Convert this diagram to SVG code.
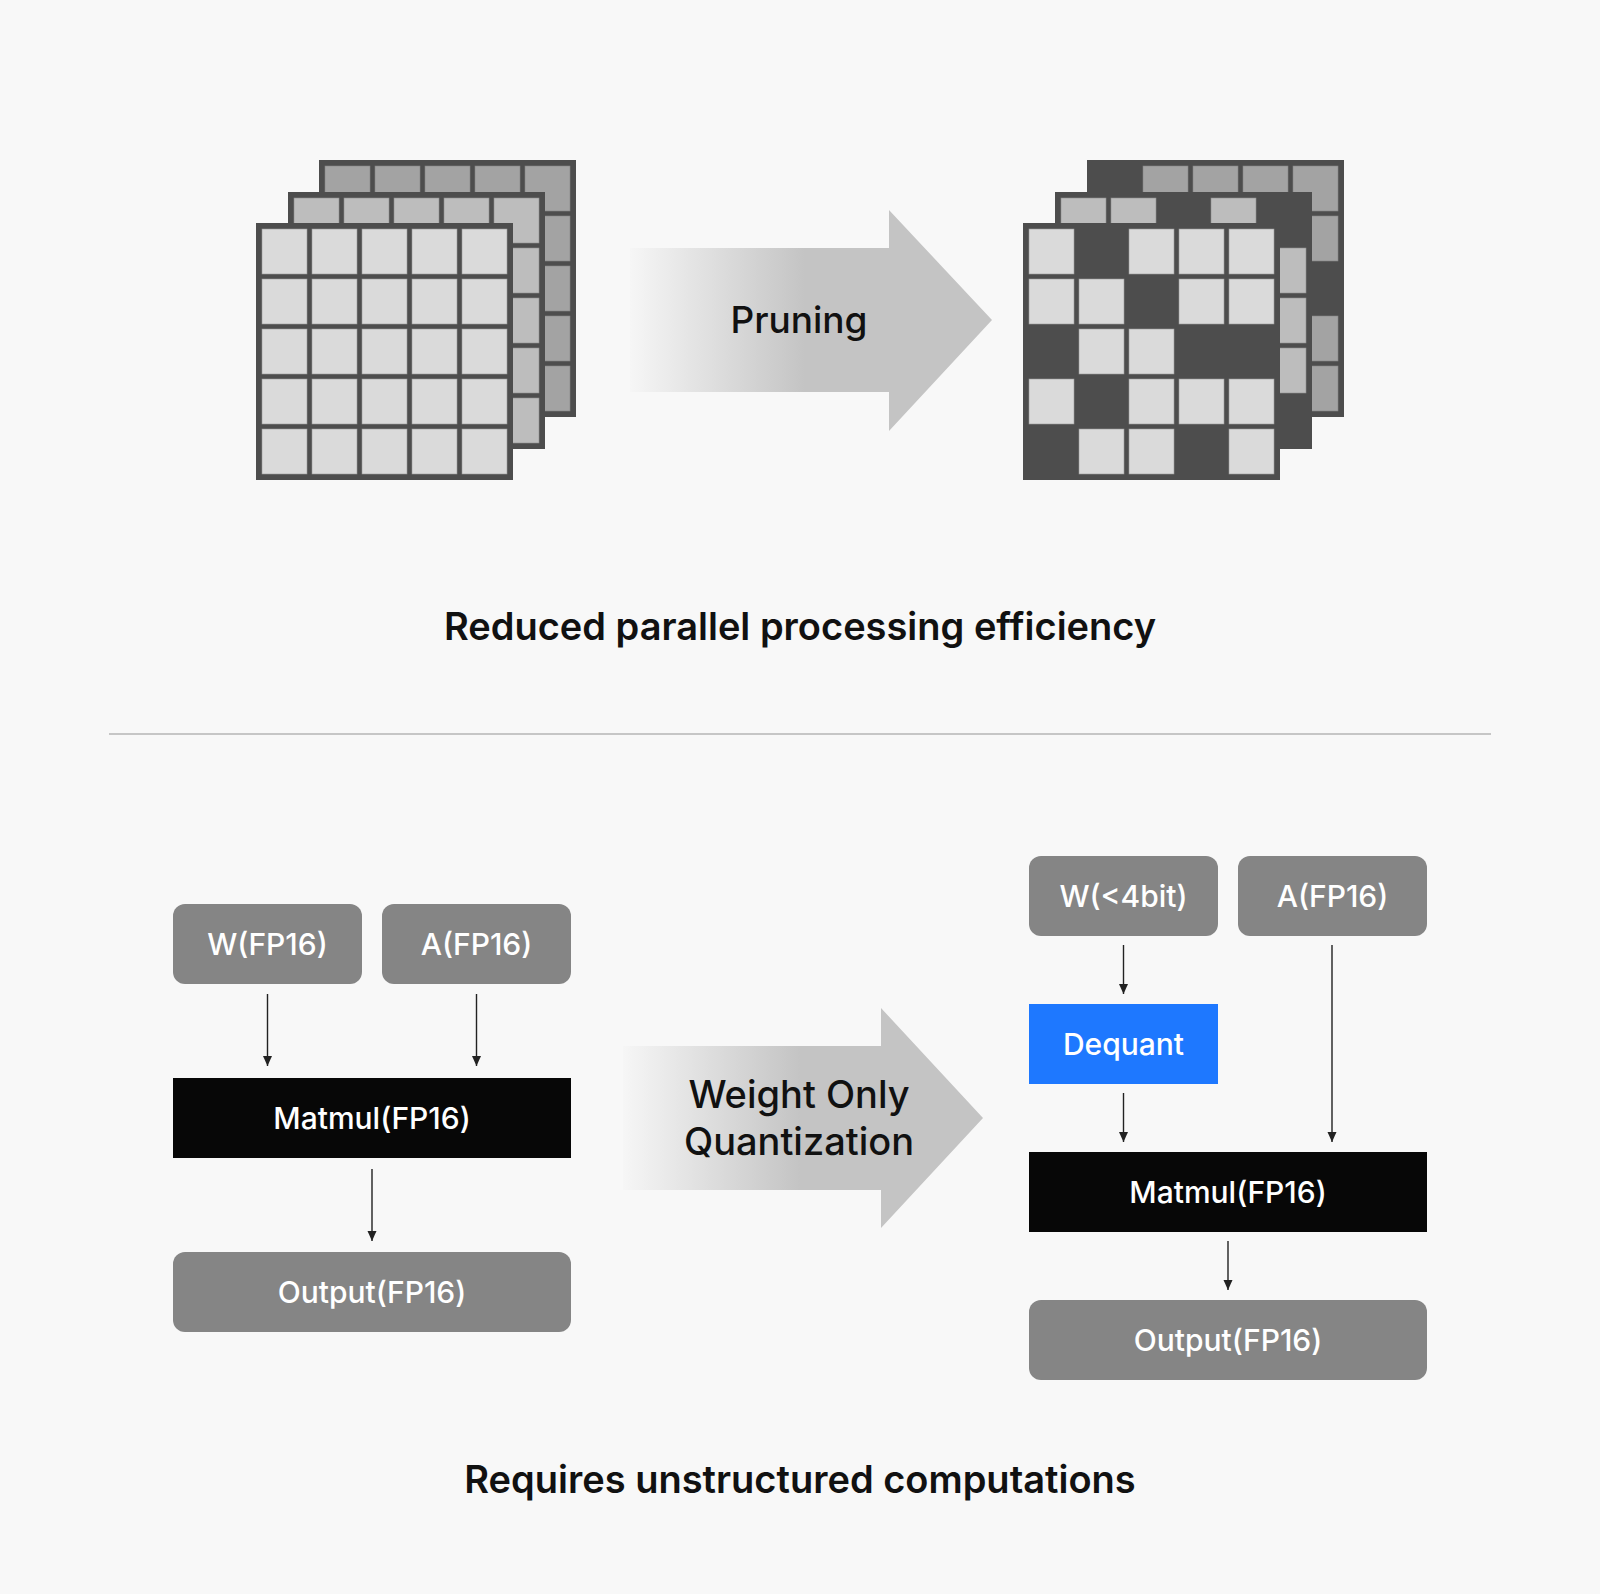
<svg xmlns="http://www.w3.org/2000/svg" width="1600" height="1594" viewBox="0 0 1600 1594">
<style>
.bg{fill:#f8f8f8}
.frame{fill:#4d4d4d}
.cf{fill:#dadada;stroke:#9a9a9a;stroke-width:0.6}
.cm{fill:#bdbdbd;stroke:#8f8f8f;stroke-width:0.6}
.cb{fill:#a3a3a3;stroke:#858585;stroke-width:0.6}
.gray{fill:#858585}
.blk{fill:#070707}
.blue{fill:#1e78ff}
.lbl{font-family:Inter,"Noto Sans","Liberation Sans",sans-serif;font-weight:500;font-size:30px;fill:#ffffff;text-anchor:middle}
.cap{font-family:Inter,"Noto Sans","Liberation Sans",sans-serif;font-weight:600;font-size:38px;fill:#111111;text-anchor:middle}
.arr{font-family:Inter,"Noto Sans","Liberation Sans",sans-serif;font-weight:500;font-size:37px;fill:#111111;text-anchor:middle}
.conn{stroke:#222222;stroke-width:1.4;fill:none;marker-end:url(#ah)}
</style>
<defs>
<marker id="ah" markerUnits="userSpaceOnUse" markerWidth="10" markerHeight="10" refX="10" refY="4.5" orient="auto">
<path d="M0,0 L10,4.5 L0,9 z" fill="#222222"/>
</marker>
<linearGradient id="g1" gradientUnits="userSpaceOnUse" x1="630" y1="0" x2="805" y2="0">
<stop offset="0" stop-color="#f6f6f6"/>
<stop offset="1" stop-color="#c4c4c4"/>
</linearGradient>
<linearGradient id="g2" gradientUnits="userSpaceOnUse" x1="623" y1="0" x2="800" y2="0">
<stop offset="0" stop-color="#f6f6f6"/>
<stop offset="1" stop-color="#c4c4c4"/>
</linearGradient>
</defs>
<rect class="bg" x="0" y="0" width="1600" height="1594"/>

<!-- Left stack (dense) -->
<g id="dense-stack">
<g id="dense-back">
<rect class="frame" x="319" y="160" width="257" height="257"/>
<rect class="cb" x="325" y="166" width="45" height="45"/><rect class="cb" x="375" y="166" width="45" height="45"/><rect class="cb" x="425" y="166" width="45" height="45"/><rect class="cb" x="475" y="166" width="45" height="45"/><rect class="cb" x="525" y="166" width="45" height="45"/>
<rect class="cb" x="525" y="216" width="45" height="45"/><rect class="cb" x="525" y="266" width="45" height="45"/><rect class="cb" x="525" y="316" width="45" height="45"/><rect class="cb" x="525" y="366" width="45" height="45"/>
</g>
<g id="dense-mid">
<rect class="frame" x="288" y="192" width="257" height="257"/>
<rect class="cm" x="294" y="198" width="45" height="45"/><rect class="cm" x="344" y="198" width="45" height="45"/><rect class="cm" x="394" y="198" width="45" height="45"/><rect class="cm" x="444" y="198" width="45" height="45"/><rect class="cm" x="494" y="198" width="45" height="45"/>
<rect class="cm" x="494" y="248" width="45" height="45"/><rect class="cm" x="494" y="298" width="45" height="45"/><rect class="cm" x="494" y="348" width="45" height="45"/><rect class="cm" x="494" y="398" width="45" height="45"/>
</g>
<g id="dense-front">
<rect class="frame" x="256" y="223" width="257" height="257"/>
<rect class="cf" x="262" y="229" width="45" height="45"/><rect class="cf" x="312" y="229" width="45" height="45"/><rect class="cf" x="362" y="229" width="45" height="45"/><rect class="cf" x="412" y="229" width="45" height="45"/><rect class="cf" x="462" y="229" width="45" height="45"/>
<rect class="cf" x="262" y="279" width="45" height="45"/><rect class="cf" x="312" y="279" width="45" height="45"/><rect class="cf" x="362" y="279" width="45" height="45"/><rect class="cf" x="412" y="279" width="45" height="45"/><rect class="cf" x="462" y="279" width="45" height="45"/>
<rect class="cf" x="262" y="329" width="45" height="45"/><rect class="cf" x="312" y="329" width="45" height="45"/><rect class="cf" x="362" y="329" width="45" height="45"/><rect class="cf" x="412" y="329" width="45" height="45"/><rect class="cf" x="462" y="329" width="45" height="45"/>
<rect class="cf" x="262" y="379" width="45" height="45"/><rect class="cf" x="312" y="379" width="45" height="45"/><rect class="cf" x="362" y="379" width="45" height="45"/><rect class="cf" x="412" y="379" width="45" height="45"/><rect class="cf" x="462" y="379" width="45" height="45"/>
<rect class="cf" x="262" y="429" width="45" height="45"/><rect class="cf" x="312" y="429" width="45" height="45"/><rect class="cf" x="362" y="429" width="45" height="45"/><rect class="cf" x="412" y="429" width="45" height="45"/><rect class="cf" x="462" y="429" width="45" height="45"/>
</g>
</g>

<!-- Pruning arrow -->
<g id="pruning-arrow">
<polygon points="630,248 889,248 889,210 992,320 889,431 889,392 630,392" fill="url(#g1)"/>
<text class="arr" x="799" y="333">Pruning</text>
</g>

<!-- Right stack (pruned) -->
<g id="pruned-stack">
<g id="pruned-back">
<rect class="frame" x="1087" y="160" width="257" height="257"/>
<rect class="cb" x="1143" y="166" width="45" height="45"/><rect class="cb" x="1193" y="166" width="45" height="45"/><rect class="cb" x="1243" y="166" width="45" height="45"/><rect class="cb" x="1293" y="166" width="45" height="45"/>
<rect class="cb" x="1293" y="216" width="45" height="45"/><rect class="cb" x="1293" y="316" width="45" height="45"/><rect class="cb" x="1293" y="366" width="45" height="45"/>
</g>
<g id="pruned-mid">
<rect class="frame" x="1055" y="192" width="257" height="257"/>
<rect class="cm" x="1061" y="198" width="45" height="45"/><rect class="cm" x="1111" y="198" width="45" height="45"/><rect class="cm" x="1211" y="198" width="45" height="45"/>
<rect class="cm" x="1261" y="248" width="45" height="45"/><rect class="cm" x="1261" y="298" width="45" height="45"/><rect class="cm" x="1261" y="348" width="45" height="45"/>
</g>
<g id="pruned-front">
<rect class="frame" x="1023" y="223" width="257" height="257"/>
<rect class="cf" x="1029" y="229" width="45" height="45"/><rect class="cf" x="1129" y="229" width="45" height="45"/><rect class="cf" x="1179" y="229" width="45" height="45"/><rect class="cf" x="1229" y="229" width="45" height="45"/>
<rect class="cf" x="1029" y="279" width="45" height="45"/><rect class="cf" x="1079" y="279" width="45" height="45"/><rect class="cf" x="1179" y="279" width="45" height="45"/><rect class="cf" x="1229" y="279" width="45" height="45"/>
<rect class="cf" x="1079" y="329" width="45" height="45"/><rect class="cf" x="1129" y="329" width="45" height="45"/>
<rect class="cf" x="1029" y="379" width="45" height="45"/><rect class="cf" x="1129" y="379" width="45" height="45"/><rect class="cf" x="1179" y="379" width="45" height="45"/><rect class="cf" x="1229" y="379" width="45" height="45"/>
<rect class="cf" x="1079" y="429" width="45" height="45"/><rect class="cf" x="1129" y="429" width="45" height="45"/><rect class="cf" x="1229" y="429" width="45" height="45"/>
</g>
</g>

<text id="caption-top" class="cap" x="800" y="640">Reduced parallel processing efficiency</text>
<line id="separator" x1="109" y1="734" x2="1491" y2="734" stroke="#c6c6c6" stroke-width="2"/>

<!-- Quantization arrow -->
<g id="wq-arrow">
<polygon points="623,1046 881,1046 881,1008 983,1118 881,1228 881,1190 623,1190" fill="url(#g2)"/>
<text class="arr" x="799" y="1108" style="font-size:38px">Weight Only</text>
<text class="arr" x="799" y="1155" style="font-size:38px">Quantization</text>
</g>

<!-- Left flow -->
<g id="l-w"><rect class="gray" x="173" y="904" width="189" height="80" rx="12"/><text class="lbl" x="267.5" y="955">W(FP16)</text></g>
<g id="l-a"><rect class="gray" x="382" y="904" width="189" height="80" rx="12"/><text class="lbl" x="476.5" y="955">A(FP16)</text></g>
<g id="l-matmul"><rect class="blk" x="173" y="1078" width="398" height="80"/><text class="lbl" x="372" y="1129">Matmul(FP16)</text></g>
<g id="l-out"><rect class="gray" x="173" y="1252" width="398" height="80" rx="12"/><text class="lbl" x="372" y="1303">Output(FP16)</text></g>

<!-- Right flow -->
<g id="r-w"><rect class="gray" x="1029" y="856" width="189" height="80" rx="12"/><text class="lbl" x="1123.5" y="907">W(&lt;4bit)</text></g>
<g id="r-a"><rect class="gray" x="1238" y="856" width="189" height="80" rx="12"/><text class="lbl" x="1332.5" y="907">A(FP16)</text></g>
<g id="r-dequant"><rect class="blue" x="1029" y="1004" width="189" height="80"/><text class="lbl" x="1123.5" y="1055">Dequant</text></g>
<g id="r-matmul"><rect class="blk" x="1029" y="1152" width="398" height="80"/><text class="lbl" x="1228" y="1203">Matmul(FP16)</text></g>
<g id="r-out"><rect class="gray" x="1029" y="1300" width="398" height="80" rx="12"/><text class="lbl" x="1228" y="1351">Output(FP16)</text></g>

<g id="connectors">
<line class="conn" x1="267.5" y1="994" x2="267.5" y2="1066"/>
<line class="conn" x1="476.5" y1="994" x2="476.5" y2="1066"/>
<line class="conn" x1="372" y1="1169" x2="372" y2="1241"/>
<line class="conn" x1="1123.5" y1="945" x2="1123.5" y2="994"/>
<line class="conn" x1="1123.5" y1="1093" x2="1123.5" y2="1142"/>
<line class="conn" x1="1332" y1="945" x2="1332" y2="1142"/>
<line class="conn" x1="1228" y1="1241" x2="1228" y2="1290"/>
</g>

<text id="caption-bottom" class="cap" x="800" y="1493">Requires unstructured computations</text>
</svg>
